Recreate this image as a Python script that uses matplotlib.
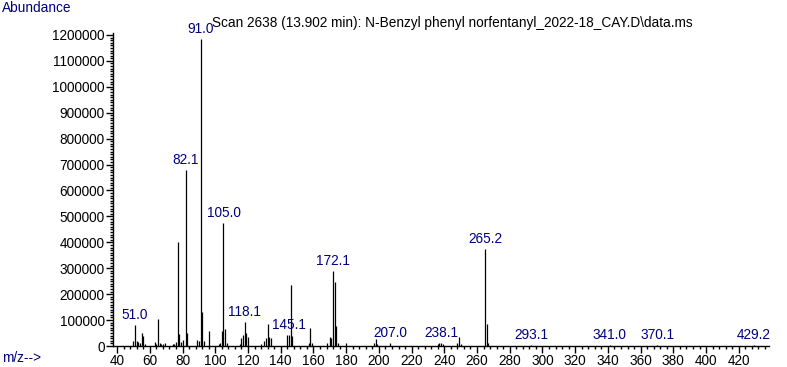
import matplotlib.pyplot as plt
from matplotlib.ticker import MultipleLocator, FormatStrFormatter

plt.rcParams['font.family'] = ['Liberation Sans', 'DejaVu Sans']

# m/z и интенсивности пиков
mz = [50, 51, 52, 53, 54, 55, 56, 57, 63, 64, 65, 66, 67, 68, 69,
      74, 75, 76, 77, 78, 79, 80, 82, 83, 89, 90, 91, 92, 93, 96,
      102, 103, 104, 105, 106, 107, 115, 116, 117, 118, 119, 120,
      128, 130, 131, 132, 133, 134, 144, 145, 146, 147, 157, 158, 159,
      168, 170, 171, 172, 173, 174, 175, 180, 197, 198, 199, 207,
      236, 237, 238, 239, 248, 249, 250, 265, 266, 267,
      293, 341, 370, 429]
abundance = [20000, 81000, 20000, 15000, 10000, 50000, 38000, 6000, 15000, 8000, 104000, 10000, 8000, 8000, 12000,
             8000, 8000, 15000, 402000, 46000, 15000, 22000, 679000, 50000, 25000, 20000, 1185000, 131000, 18000, 58000,
             8000, 12000, 58000, 474000, 66000, 10000, 8000, 30000, 42000, 94000, 50000, 35000,
             8000, 18000, 30000, 85000, 35000, 30000, 42000, 42000, 235000, 38000, 10000, 70000, 10000,
             10000, 35000, 30000, 289000, 246000, 77000, 10000, 12000, 12000, 27000, 8000, 12000,
             8000, 12000, 12000, 8000, 10000, 36000, 8000, 374000, 85000, 12000,
             3000, 3000, 3000, 3000]

# подписанные пики
label_mz = [51.0, 82.1, 91.0, 105.0, 118.1, 145.1, 172.1, 207.0, 238.1, 265.2, 293.1, 341.0, 370.1, 429.2]
label_y = [81000, 679000, 1185000, 474000, 94000, 42000, 289000, 12000, 12000, 374000, 3000, 3000, 3000, 3000]

navy = '#00007f'

fig = plt.figure(figsize=(7.87, 3.67), dpi=100)
ax = fig.add_axes([0.1436, 0.0572, 0.8334, 0.853])

ax.vlines(mz, 0, abundance, color='black', linewidth=0.9)

for x, y in zip(label_mz, label_y):
    ax.annotate(f'{x:.1f}', (x, y), xytext=(0, 2), textcoords='offset points',
                ha='center', va='bottom', color=navy, fontsize=9.8)

ax.set_xlim(37.5, 438.4)
ax.set_ylim(0, 1207700)
ax.xaxis.set_major_locator(MultipleLocator(20))
ax.xaxis.set_minor_locator(MultipleLocator(4))
ax.yaxis.set_major_locator(MultipleLocator(100000))
ax.yaxis.set_minor_locator(MultipleLocator(10000))
ax.yaxis.set_major_formatter(FormatStrFormatter('%d'))
ax.tick_params(labelsize=9.8, length=5, width=1, pad=1)
ax.tick_params(which='minor', length=2, width=1)
for s in ['top', 'right']:
    ax.spines[s].set_visible(False)
ax.spines['left'].set_linewidth(1)
ax.spines['bottom'].set_linewidth(1)

fig.text(212 / 787, 1 - 23 / 367, 'Scan 2638 (13.902 min): N-Benzyl phenyl norfentanyl_2022-18_CAY.D\\data.ms',
         ha='left', va='center', fontsize=9.8, color='black')
fig.text(2 / 787, 1 - 8 / 367, 'Abundance', ha='left', va='center', fontsize=9.8, color=navy)
fig.text(2 / 787, 1 - 358 / 367, 'm/z-->', ha='left', va='center', fontsize=9.8, color=navy)

fig.savefig('out.png', dpi=100)
